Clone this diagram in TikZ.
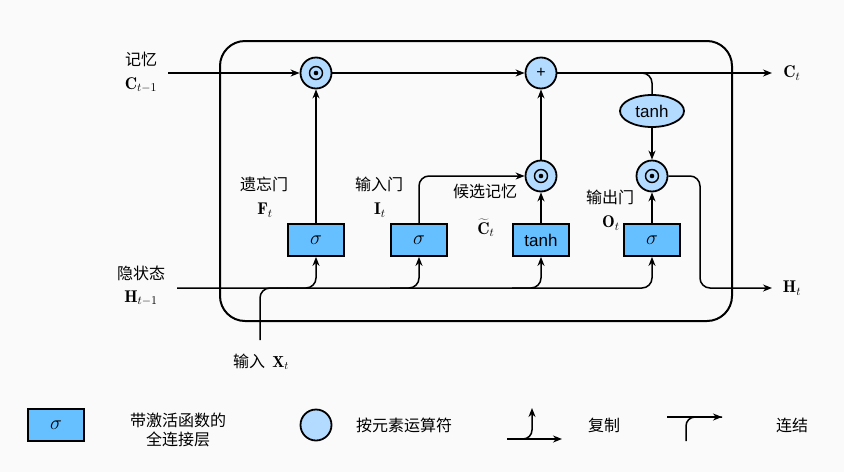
\RequirePackage{fix-cm}
\documentclass[tikz,border=0pt]{standalone}
\usepackage{fontspec}
\newfontfamily\cjk{Noto Sans CJK SC}
\newfontfamily\arial{Liberation Sans}
\usetikzlibrary{arrows.meta,shapes.geometric}
\definecolor{gateblue}{HTML}{66BFFF}
\definecolor{opblue}{HTML}{B3DBFF}
\definecolor{bgcol}{HTML}{FAFAFA}

\begin{document}
\begin{tikzpicture}[x=1pt, y=-1pt,
		arr/.style={line width=1.5pt, -{Stealth[length=9pt,width=7pt]}},
		wire/.style={line width=1.5pt},
		gate/.style={draw, line width=1.8pt, fill=gateblue, minimum width=56pt, minimum height=32pt, inner sep=0pt},
		op/.style={draw, line width=1.8pt, fill=opblue, circle, minimum size=31pt, inner sep=0pt},
		dotop/.style={op, path picture={
			\draw[black, line width=1.4pt] (path picture bounding box.center) circle (6.5pt);
			\fill[black] (path picture bounding box.center) circle (2.3pt);}},
		lbl/.style={font=\cjk\fontsize{16}{19}\selectfont, inner sep=1pt},
		sym/.style={font=\fontsize{17}{20}\selectfont, inner sep=1pt}]
		\fill[bgcol] (0,0) rectangle (844,472);
		\useasboundingbox (0,0) rectangle (844,472);
		
		% LSTM cell
		\draw[line width=2pt, rounded corners=25] (220,41) rectangle (732,321);
		
		% element-wise operators
		\node[dotop] (f) at (316,73) {};
		\node[op, font=\arial\fontsize{16}{18}\selectfont] (p) at (541,73) {+};
		\node[dotop] (c) at (541,176) {};
		\node[dotop] (o) at (652,176) {};
		\node[draw, ellipse, line width=1.8pt, fill=opblue, minimum width=64pt, minimum height=32pt, inner sep=0pt,
			font=\arial\fontsize{17}{19}\selectfont] (th) at (652,111) {tanh};
		
		% gates
		\node[gate, font=\fontsize{20}{22}\selectfont] (fg) at (316,240) {$\sigma$};
		\node[gate, font=\fontsize{20}{22}\selectfont] (ig) at (419,240) {$\sigma$};
		\node[gate, font=\arial\fontsize{17}{19}\selectfont] (cg) at (541,240) {tanh};
		\node[gate, font=\fontsize{20}{22}\selectfont] (og) at (652,240) {$\sigma$};
		
		\coordinate (cin) at (168,73);
		\coordinate (cout) at (772,73);
		\coordinate (hin) at (177,288);
		\coordinate (hturn) at (700,288);
		\coordinate (hout) at (772,288);
		\coordinate (xin) at (260,340);
		
		% memory line
		\draw[arr] (cin) -- (f);
		\draw[arr] (f) -- (p);
		\draw[arr] (p) -- (cout);
		\draw[wire, rounded corners=10] (p.east) -| (th.north);
		\draw[arr] (th) -- (o);
		\draw[arr] (c) -- (p);
		
		% gates to operators
		\draw[arr] (fg) -- (f);
		\draw[arr, rounded corners=10] (ig.north) |- (c.west);
		\draw[arr] (cg) -- (c);
		\draw[arr] (og) -- (o);
		\draw[arr, rounded corners=10] (o.east) -| (hturn) -- (hout);
		
		% hidden state and input
		\draw[arr, rounded corners=10] (hin) -| (og.south);
		\draw[arr, rounded corners=10] (hin -| fg.west) -| (fg.south);
		\draw[arr, rounded corners=10] (hin -| ig.west) -| (ig.south);
		\draw[arr, rounded corners=10] (hin -| cg.west) -| (cg.south);
		\draw[wire, rounded corners=10] (xin) |- (hin -| fg.west);
		
		% labels
		\node[lbl] (memtxt) at (141,59) {记忆};
		\node[sym] (cprev) at (141,85) {$\mathbf{C}_{t-1}$};
		\node[lbl] (hidtxt) at (141,273) {隐状态};
		\node[sym] (hprev) at (141,298) {$\mathbf{H}_{t-1}$};
		\node[sym] (cnext) at (792,73) {$\mathbf{C}_t$};
		\node[sym] (hnext) at (792,288) {$\mathbf{H}_t$};
		\node[lbl] (fgtxt) at (264,184) {遗忘门};
		\node[sym] (ft) at (265,210) {$\mathbf{F}_t$};
		\node[lbl] (igtxt) at (379,184) {输入门};
		\node[sym] (it) at (380,210) {$\mathbf{I}_t$};
		\node[lbl, inner sep=0pt] (cgtxt) at (485,191) {候选记忆};
		\node[sym, inner sep=0pt] (ct) at (486,228) {$\widetilde{\mathbf{C}}_t$};
		\node[lbl] (ogtxt) at (610,197) {输出门};
		\node[sym] (ot) at (611,223) {$\mathbf{O}_t$};
		\node[lbl] (xtxt) at (261,362) {输入\ \ $\mathbf{X}_t$};
		
		% legend
		\node[gate, font=\fontsize{20}{22}\selectfont] (lgate) at (56,425) {$\sigma$};
		\node[lbl, align=center] (lgatetxt) at (178,430) {带激活函数的\\全连接层};
		\node[op] (lop) at (316,425) {};
		\node[lbl] (loptxt) at (404,425) {按元素运算符};
		\coordinate (cpa) at (507,439);
		\coordinate (cpb) at (562,439);
		\coordinate (cpc) at (532,408);
		\draw[arr] (cpa) -- (cpb);
		\draw[arr, rounded corners=9] (cpa) -| (cpc);
		\node[lbl] (cptxt) at (604,425) {复制};
		\coordinate (cna) at (686,441);
		\coordinate (cnb) at (722,417);
		\coordinate (cnc) at (667,417);
		\draw[arr] (cnc) -- (cnb);
		\draw[wire, rounded corners=9] (cna) |- (cnb);
		\node[lbl] (cntxt) at (792,425) {连结};
	\end{tikzpicture}
\end{document}
